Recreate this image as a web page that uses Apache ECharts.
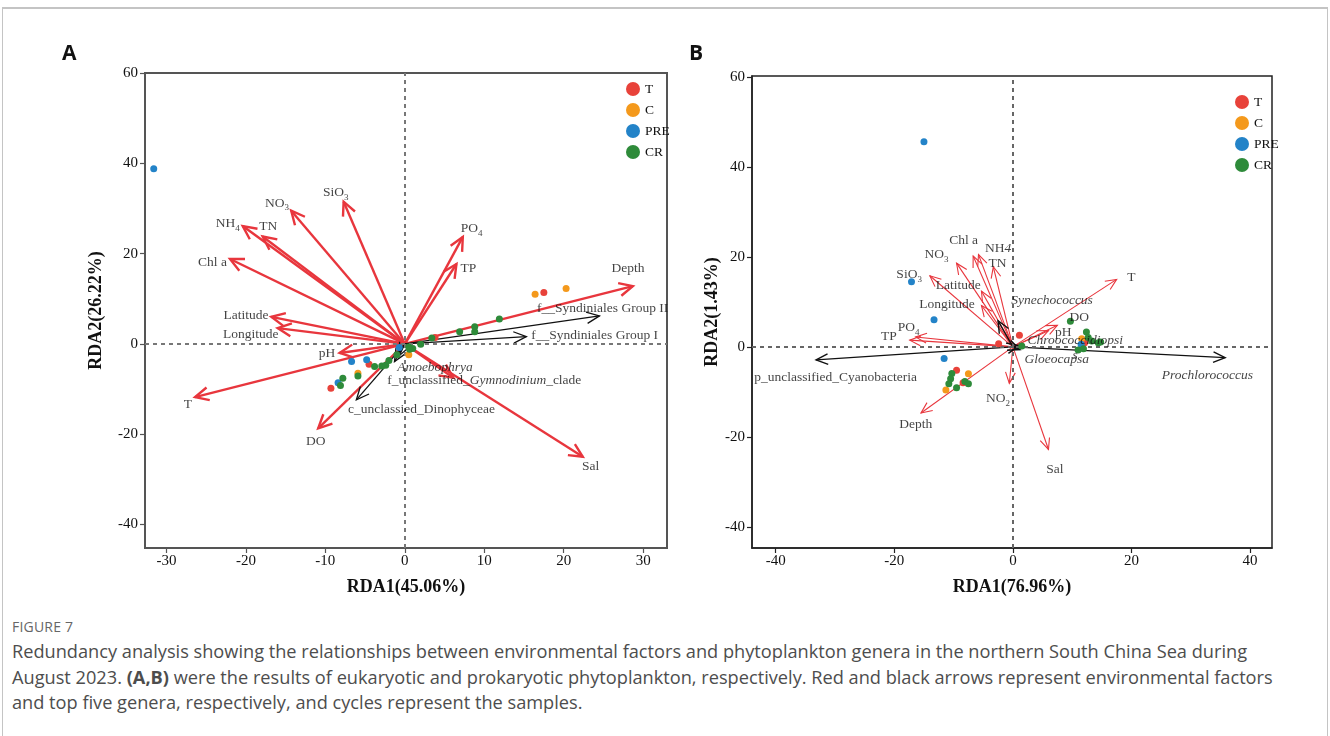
<!DOCTYPE html>
<html>
<head>
<meta charset="utf-8">
<script src="https://cdn.jsdelivr.net/npm/echarts@6/dist/echarts.min.js"></script>
<style>
  html, body { margin: 0; padding: 0; background: #fff; }
  #frame { position: absolute; left: 2px; top: 7px; width: 1324px; height: 740px; border: 1px solid #c4c4c4; border-top: 2px solid #c4c4c4; }
  #chart { position: absolute; left: 0; top: 0; width: 1330px; height: 610px; }
  #caption { position: absolute; left: 12px; top: 617px; font-family: "Open Sans", sans-serif; color: #4d4d4d; }
  #caption .fig { font-size: 14px; color: #666; letter-spacing: 0.2px; line-height: 20px; }
  #caption .txt { font-size: 18.2px; line-height: 25.5px; margin-top: 2px; white-space: nowrap; }
</style>
</head>
<body>
<div id="frame"></div>
<div id="chart"></div>
<div id="caption">
  <div class="fig">FIGURE 7</div>
  <div class="txt">Redundancy analysis showing the relationships between environmental factors and phytoplankton genera in the northern South China Sea during<br>August 2023. <b>(A,B)</b> were the results of eukaryotic and prokaryotic phytoplankton, respectively. Red and black arrows represent environmental factors<br>and top five genera, respectively, and cycles represent the samples.</div>
</div>
<script>
// ---- panel A: eukaryotic phytoplankton ----
const envNamesA = ['T', 'DO', 'pH', 'Longitude', 'Latitude', 'Chl a', 'NH4', 'TN', 'NO3', 'SiO3', 'PO4', 'TP', 'Depth', 'Sal', 'NO2'];
const envA = [[-26.4, -11.8], [-10.9, -18.7], [-8.2, -2.0], [-16.0, 3.5], [-16.8, 6.0], [-22.0, 18.8], [-20.4, 26.1],
  [-17.9, 23.8], [-14.3, 29.5], [-7.7, 31.5], [7.3, 23.7], [6.5, 17.7], [28.7, 12.8], [22.4, -25.0], [6.1, -7.5]];
const envLabelA = [[-27.3, -13.5], [-11.2, -21.5], [-9.8, -2.2], [-19.4, 2.2], [-20.0, 6.2], [-24.2, 18.0], [-22.3, 26.7],
  [-17.2, 26.0], [-16.1, 31.2], [-8.7, 33.5], [8.4, 25.6], [8.0, 16.8], [28.1, 16.8], [23.4, -27.2], null];

const genusNamesA = ['f__Syndiniales Group II', 'f__Syndiniales Group I', 'c_unclassied_Dinophyceae', 'Amoebophrya', 'f_unclassified_Gymnodinium_clade'];
const genusA = [[24.5, 6.2], [15.3, 1.6], [-6.1, -12.4], [-1.3, -3.9], [-0.7, -2.6]];
const genusLabelA = [[24.9, 7.9], [23.9, 1.8], [2.1, -14.5], [3.8, -5.3], [10.0, -8.0]];

const sampT_A = [[17.5, 11.4], [3.8, 1.4], [-4.5, -4.5], [-9.3, -9.8]];
const sampC_A = [[16.4, 11.0], [20.3, 12.3], [0.5, -2.4], [-5.9, -6.5]];
const sampPRE_A = [[-31.6, 38.8], [-0.7, -0.8], [-6.7, -3.9], [-4.8, -3.5], [-8.4, -8.6]];
const sampCR_A = [[11.9, 5.5], [8.8, 3.8], [8.8, 2.7], [6.9, 2.7], [3.4, 1.3], [2.0, -0.1], [0.5, -0.7], [1.0, -1.0],
  [-3.8, -5.0], [-2.9, -4.9], [-2.4, -4.7], [-2.0, -3.7], [-1.0, -2.4], [0.6, -1.2], [-5.9, -7.1], [-7.8, -7.6], [-8.1, -9.2]];

// ---- panel B: prokaryotic phytoplankton ----
const envNamesB = ['Chl a', 'NO3', 'NH4', 'TN', 'SiO3', 'Latitude', 'Longitude', 'PO4', 'TP', 'T', 'DO', 'pH', 'NO2', 'Depth', 'Sal'];
const envB = [[-6.7, 20.2], [-9.5, 18.6], [-5.8, 20.5], [-3.3, 17.8], [-14.0, 15.8], [-5.3, 12.4], [-5.3, 9.2],
  [-16.4, 2.2], [-17.4, 1.5], [17.5, 15.0], [7.5, 4.8], [6.0, 3.6], [-0.6, -8.1], [-15.5, -14.7], [6.0, -22.8]];
const envLabelB = [[-8.3, 23.6], [-12.9, 20.6], [-2.5, 21.9], [-2.6, 18.6], [-17.5, 16.0], [-9.2, 13.6], [-11.1, 9.5],
  [-17.6, 4.3], [-20.9, 2.3], [20.0, 15.5], [11.2, 6.6], [8.5, 3.2], [-2.5, -11.4], [-16.4, -17.3], [7.1, -27.2]];

const genusNamesB = ['p_unclassified_Cyanobacteria', 'Prochlorococcus', 'Synechococcus', 'Gloeocapsa', 'Chroococcidiopsis'];
const genusB = [[-33.2, -2.9], [35.8, -2.4], [-2.5, 5.8], [1.2, -0.6], [1.0, 0.3]];
const genusLabelB = [[-29.9, -6.8], [32.8, -6.3], [6.6, 10.4], [7.4, -2.9], [10.5, -0.3]];

const sampT_B = [[-9.5, -5.2], [-8.4, -8.0], [-2.4, 0.7], [1.1, 2.6], [12.1, 0.9]];
const sampC_B = [[-7.5, -6.0], [-11.3, -9.6], [11.6, 1.8]];
const sampPRE_B = [[-15.0, 45.6], [-17.1, 14.5], [-13.3, 6.0], [-11.6, -2.6], [11.5, 0.6]];
const sampCR_B = [[-10.3, -5.9], [-10.5, -7.1], [-10.8, -8.2], [-8.1, -7.7], [-7.5, -8.2], [-9.5, -9.1], [1.5, 0.2],
  [9.7, 5.7], [12.4, 3.3], [12.7, 2.1], [13.3, 1.3], [14.4, 0.9], [14.8, 1.1], [11.0, -0.7], [11.9, -0.4]];

const groups = ['T', 'C', 'PRE', 'CR'];
const groupColors = ['#e8423a', '#f4991c', '#2383c8', '#2e8b3a'];
const ticksA_x = [-30, -20, -10, 0, 10, 20, 30];
const ticksB_x = [-40, -20, 0, 20, 40];
const ticks_y = [-40, -20, 0, 20, 40, 60];

const SERIF = '"Liberation Serif", "Times New Roman", serif';
const RED = '#e8363d';
const INK = '#111';

// rich text for labels (subscripts, italic genus names)
const richLabel = {
  n: { fontFamily: SERIF, fontSize: 13.5, color: INK },
  s: { fontSize: 9, verticalAlign: 'bottom', lineHeight: 19, fontFamily: SERIF, color: INK },
  i: { fontStyle: 'italic', fontFamily: SERIF, color: INK, fontSize: 13.5 }
};
function fmt(name, panel) {
  const subs = { NO3: '{n|NO}{s|3}', NH4: '{n|NH}{s|4}', SiO3: '{n|SiO}{s|3}', PO4: '{n|PO}{s|4}', NO2: '{n|NO}{s|2}' };
  if (panel === 'B' && name === 'NH4') return 'NH{i|4}';
  if (subs[name]) return subs[name];
  if (name === 'Amoebophrya' || name === 'Prochlorococcus' || name === 'Synechococcus' || name === 'Gloeocapsa') return '{i|' + name + '}';
  if (name === 'Chroococcidiopsis') return '{i|Chroococcidiopsi}\n{i|s}';
  if (name === 'f_unclassified_Gymnodinium_clade') return 'f_unclassified_{i|Gymnodinium}_clade';
  return name;
}

function arrowRender(head, width, color, spread) {
  return function (params, api) {
    const o = api.coord([0, 0]);
    const p = api.coord([api.value(0), api.value(1)]);
    const a = Math.atan2(p[1] - o[1], p[0] - o[0]);
    const l = [p[0] - head * Math.cos(a - spread), p[1] - head * Math.sin(a - spread)];
    const r = [p[0] - head * Math.cos(a + spread), p[1] - head * Math.sin(a + spread)];
    return {
      type: 'group',
      children: [
        { type: 'line', shape: { x1: o[0], y1: o[1], x2: p[0], y2: p[1] }, style: { stroke: color, lineWidth: width } },
        { type: 'polyline', shape: { points: [l, p, r] }, style: { stroke: color, lineWidth: width, fill: null } }
      ]
    };
  };
}

function labelSeries(idx, names, anchors, panel) {
  const data = [];
  names.forEach((n, i) => { if (anchors[i]) data.push([anchors[i][0], anchors[i][1], fmt(n, panel)]); });
  return {
    type: 'scatter', xAxisIndex: idx, yAxisIndex: idx, symbolSize: 0, silent: true, z: 6,
    data: data,
    label: {
      show: true, position: 'inside', formatter: p => p.value[2],
      fontFamily: SERIF, fontSize: 13.5, color: INK, lineHeight: 15,
      rich: richLabel
    }
  };
}

function zeroLines(idx, color) {
  return {
    type: 'scatter', xAxisIndex: idx, yAxisIndex: idx, data: [], z: 1, silent: true,
    markLine: {
      silent: true, symbol: ['none', 'none'], label: { show: false },
      lineStyle: { type: [4, 4], color: color, width: 2 },
      data: [{ xAxis: 0 }, { yAxis: 0 }]
    }
  };
}

function pointSeries(idx, sets) {
  return sets.map((d, i) => ({
    name: groups[i], type: 'scatter', xAxisIndex: idx, yAxisIndex: idx, data: d, z: 5,
    symbolSize: 7, itemStyle: { color: groupColors[i], opacity: 1 }
  }));
}

function axisX(idx, min, max, ticks, name, lineColor, width) {
  return {
    gridIndex: idx, type: 'value', min: min, max: max,
    name: name, nameLocation: 'middle', nameGap: 30,
    nameTextStyle: { fontFamily: SERIF, fontSize: 18, fontWeight: 'bold', color: INK },
    axisLine: { show: true, onZero: false, lineStyle: { color: lineColor, width: width } },
    axisTick: { show: true, length: 5, customValues: ticks, lineStyle: { color: lineColor, width: 1.2 } },
    axisLabel: { customValues: ticks, fontFamily: SERIF, fontSize: 15, color: INK, margin: 6 },
    splitLine: { show: false }
  };
}
function axisY(idx, min, max, name, gap, lineColor, width) {
  return {
    gridIndex: idx, type: 'value', min: min, max: max,
    name: name, nameLocation: 'middle', nameGap: gap,
    nameTextStyle: { fontFamily: SERIF, fontSize: 18, fontWeight: 'bold', color: INK },
    axisLine: { show: true, onZero: false, lineStyle: { color: lineColor, width: width } },
    axisTick: { show: true, length: 5, customValues: ticks_y, lineStyle: { color: lineColor, width: 1.2 } },
    axisLabel: { customValues: ticks_y, fontFamily: SERIF, fontSize: 15, color: INK, margin: 7 },
    splitLine: { show: false }
  };
}

const chart = echarts.init(document.getElementById('chart'));
chart.setOption({
  animation: false,
  backgroundColor: 'transparent',
  grid: [
    { left: 145, top: 73, width: 522, height: 475, show: true, borderColor: '#555', borderWidth: 2 },
    { left: 752, top: 76, width: 520, height: 472, show: true, borderColor: '#222', borderWidth: 1.5 }
  ],
  xAxis: [
    axisX(0, -32.7, 33, ticksA_x, 'RDA1(45.06%)', '#555', 2),
    axisX(1, -44, 43.7, ticksB_x, 'RDA1(76.96%)', '#222', 1.5)
  ],
  yAxis: [
    axisY(0, -45.2, 60, 'RDA2(26.22%)', 40, '#555', 2),
    axisY(1, -44.7, 60.2, 'RDA2(1.43%)', 30, '#222', 1.5)
  ],
  legend: [
    { data: groups, orient: 'vertical', left: 621, top: 77, icon: 'circle', itemWidth: 14, itemHeight: 14, itemGap: 7,
      selectedMode: false, textStyle: { fontFamily: SERIF, fontSize: 13.5, color: INK } },
    { data: groups, orient: 'vertical', left: 1230, top: 90, icon: 'circle', itemWidth: 14, itemHeight: 14, itemGap: 7,
      selectedMode: false, textStyle: { fontFamily: SERIF, fontSize: 13.5, color: INK } }
  ],
  graphic: [
    { type: 'text', left: 62, top: 44, style: { text: 'A', font: 'bold 21px "Open Sans", sans-serif', fill: '#111' } },
    { type: 'text', left: 689, top: 44, style: { text: 'B', font: 'bold 21px "Open Sans", sans-serif', fill: '#111' } }
  ],
  series: [
    zeroLines(0, '#777'),
    { type: 'custom', xAxisIndex: 0, yAxisIndex: 0, data: envA, z: 2, silent: true,
      renderItem: arrowRender(15, 2.4, RED, 0.45), encode: { x: 0, y: 1 } },
    { type: 'custom', xAxisIndex: 0, yAxisIndex: 0, data: genusA, z: 3, silent: true,
      renderItem: arrowRender(14, 1.3, '#111', 0.42), encode: { x: 0, y: 1 } },
    ...pointSeries(0, [sampT_A, sampC_A, sampPRE_A, sampCR_A]),
    labelSeries(0, envNamesA, envLabelA, 'A'),
    labelSeries(0, genusNamesA, genusLabelA, 'A'),

    zeroLines(1, '#666'),
    { type: 'custom', xAxisIndex: 1, yAxisIndex: 1, data: envB, z: 2, silent: true,
      renderItem: arrowRender(12, 1.1, RED, 0.42), encode: { x: 0, y: 1 } },
    { type: 'custom', xAxisIndex: 1, yAxisIndex: 1, data: genusB, z: 3, silent: true,
      renderItem: arrowRender(13, 1.4, '#111', 0.42), encode: { x: 0, y: 1 } },
    ...pointSeries(1, [sampT_B, sampC_B, sampPRE_B, sampCR_B]),
    labelSeries(1, envNamesB, envLabelB, 'B'),
    labelSeries(1, genusNamesB, genusLabelB, 'B')
  ]
});
</script>
</body>
</html>
